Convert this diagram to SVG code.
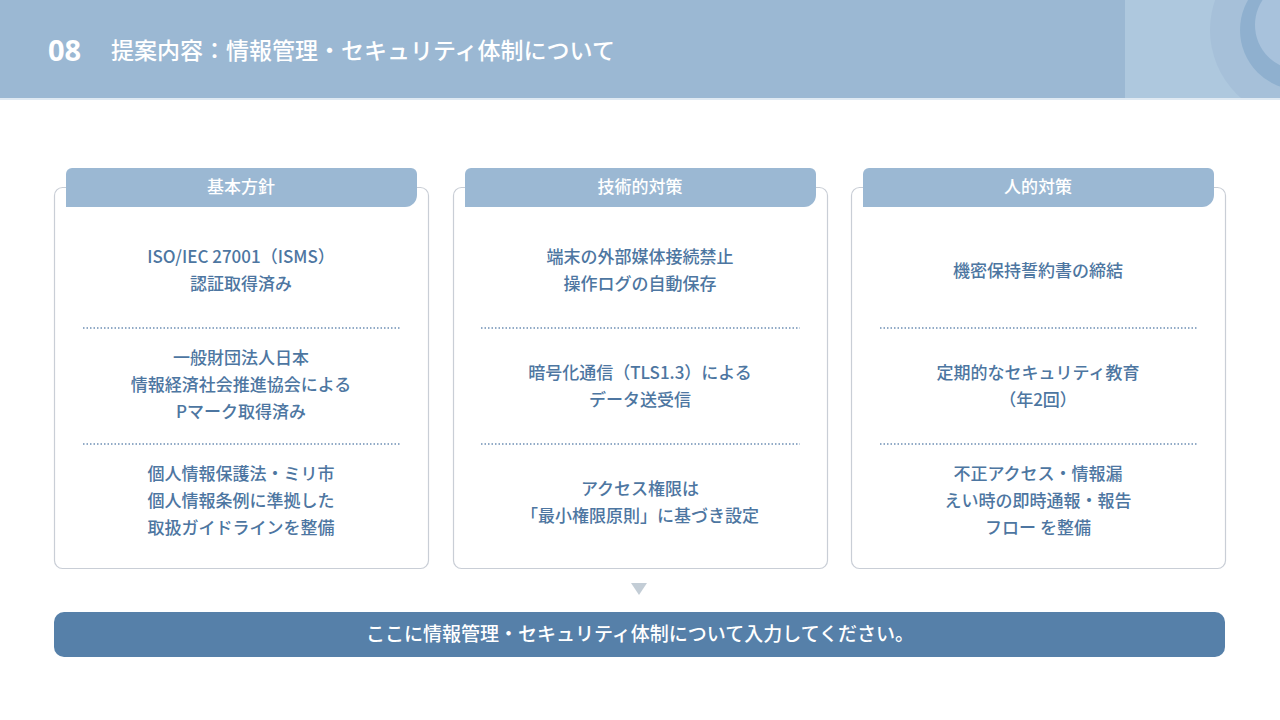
<svg xmlns="http://www.w3.org/2000/svg" width="1280" height="720" viewBox="0 0 1280 720">
<style>
.t{font-family:"Noto Sans CJK JP","Noto Sans",sans-serif;font-weight:500;font-size:17px;fill:#4d76a1;text-anchor:middle}
.h{font-family:"Noto Sans CJK JP","Noto Sans",sans-serif;font-weight:500;font-size:17px;fill:#fff;text-anchor:middle}
.card{fill:#fff;stroke:#c9ced6;stroke-width:1.2}
.tab{fill:#9bb8d3}
.dot{stroke:#6d8fb4;stroke-width:1.5;stroke-dasharray:1.5 2}
</style>
<rect width="1280" height="720" fill="#fff"/>
<g id="header">
<rect width="1280" height="98" fill="#9bb8d3"/>
<clipPath id="c"><rect x="1125" y="0" width="155" height="98"/></clipPath>
<g clip-path="url(#c)">
<rect x="1125" y="0" width="155" height="98" fill="#aec8de"/>
<circle cx="1300" cy="30" r="90" fill="#a6c0d9"/>
<circle cx="1300" cy="30" r="60" fill="#8fb0cf"/>
<circle cx="1300" cy="25" r="45" fill="#a8c2dc"/>
</g>
<rect x="0" y="98" width="1280" height="2" fill="#dfe9f2"/>
<text x="48" y="61" font-family="Noto Sans,sans-serif" font-weight="700" font-size="29" fill="#fff">08</text>
<text x="111" y="59" font-family="Noto Sans CJK JP,sans-serif" font-weight="500" font-size="23" fill="#fff">提案内容：情報管理・セキュリティ体制について</text>
</g>
<g id="card1">
<rect class="card" x="54.5" y="187.5" width="374" height="381" rx="8"/>
<path class="tab" d="M72 168H411a6 6 0 0 1 6 6V195a12 12 0 0 1-12 12H66V174a6 6 0 0 1 6-6z"/>
<text class="h" x="241" y="193">基本方針</text>
<text class="t" x="241" y="263">ISO/IEC 27001（ISMS）</text>
<text class="t" x="241" y="290">認証取得済み</text>
<line class="dot" x1="83" y1="328" x2="401" y2="328"/>
<text class="t" x="241" y="364">一般財団法人日本</text>
<text class="t" x="241" y="391">情報経済社会推進協会による</text>
<text class="t" x="241" y="418">Pマーク取得済み</text>
<line class="dot" x1="83" y1="444" x2="401" y2="444"/>
<text class="t" x="241" y="480">個人情報保護法・ミリ市</text>
<text class="t" x="241" y="507">個人情報条例に準拠した</text>
<text class="t" x="241" y="534">取扱ガイドラインを整備</text>
</g>
<g id="card2">
<rect class="card" x="453.5" y="187.5" width="374" height="381" rx="8"/>
<path class="tab" d="M471 168H810a6 6 0 0 1 6 6V195a12 12 0 0 1-12 12H465V174a6 6 0 0 1 6-6z"/>
<text class="h" x="640" y="193">技術的対策</text>
<text class="t" x="640" y="263">端末の外部媒体接続禁止</text>
<text class="t" x="640" y="290">操作ログの自動保存</text>
<line class="dot" x1="481" y1="328" x2="800" y2="328"/>
<text class="t" x="640" y="379">暗号化通信（TLS1.3）による</text>
<text class="t" x="640" y="406">データ送受信</text>
<line class="dot" x1="481" y1="444" x2="800" y2="444"/>
<text class="t" x="640" y="495">アクセス権限は</text>
<text class="t" x="640" y="522">「最小権限原則」に基づき設定</text>
</g>
<g id="card3">
<rect class="card" x="851.5" y="187.5" width="374" height="381" rx="8"/>
<path class="tab" d="M869 168H1208a6 6 0 0 1 6 6V195a12 12 0 0 1-12 12H863V174a6 6 0 0 1 6-6z"/>
<text class="h" x="1038" y="193">人的対策</text>
<text class="t" x="1038" y="277">機密保持誓約書の締結</text>
<line class="dot" x1="880" y1="328" x2="1198" y2="328"/>
<text class="t" x="1038" y="379">定期的なセキュリティ教育</text>
<text class="t" x="1038" y="406">（年2回）</text>
<line class="dot" x1="880" y1="444" x2="1198" y2="444"/>
<text class="t" x="1038" y="480">不正アクセス・情報漏</text>
<text class="t" x="1038" y="507">えい時の即時通報・報告</text>
<text class="t" x="1038" y="534">フロー を整備</text>
</g>
<g id="connectors">
<path d="M631 583H647L639 595Z" fill="#b4c0cc" opacity="0.8"/>
</g>
<g id="summary">
<rect x="54" y="612" width="1171" height="45" rx="10" fill="#5680a9"/>
<text x="640" y="641" font-family="Noto Sans CJK JP,sans-serif" font-weight="500" font-size="19" fill="#fff" text-anchor="middle">ここに情報管理・セキュリティ体制について入力してください。</text>
</g>
</svg>
